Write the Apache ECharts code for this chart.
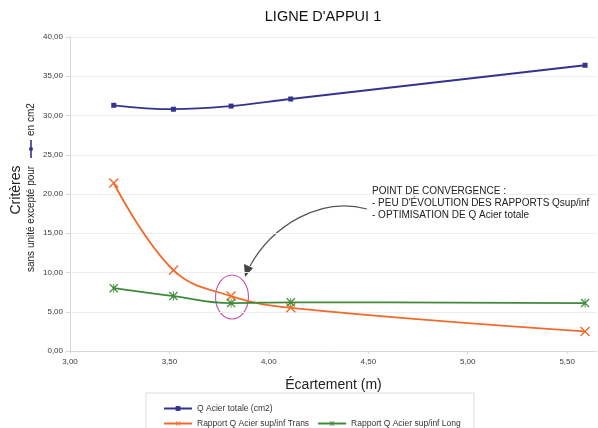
<!DOCTYPE html>
<html>
<head>
<meta charset="utf-8">
<script src="https://cdn.jsdelivr.net/npm/echarts@6/dist/echarts.min.js"></script>
<style>html,body{margin:0;padding:0;background:#fff;}#c{width:598px;height:428px;}</style>
</head>
<body>
<div id="c"></div>
<script>
const xValues = [3.22, 3.52, 3.81, 4.11, 5.59];
const qAcierTotale = [31.3, 30.8, 31.2, 32.1, 36.4];
const rapportTrans = [21.4, 10.3, 7.0, 5.5, 2.5];
const rapportLong = [8.0, 7.0, 6.1, 6.2, 6.1];
const seriesNames = ['Q Acier totale (cm2)', 'Rapport Q Acier sup/inf Trans', 'Rapport Q Acier sup/inf Long'];
const titleText = "LIGNE D'APPUI 1";
const xAxisName = 'Écartement (m)';
const yAxisName = 'Critères';
const noteLines = ['POINT DE CONVERGENCE :', "- PEU D'ÉVOLUTION DES RAPPORTS Qsup/inf", '- OPTIMISATION DE Q Acier totale'];

const FONT = 'Liberation Sans, Arial, sans-serif';
const BLUE = '#33338f', ORANGE = '#f26a2a', GREEN = '#3f8a3a';
const xSym = 'path://M0,1L1,0L5,4L9,0L10,1L6,5L10,9L9,10L5,6L1,10L0,9L4,5Z';
const starSym = 'path://M0,1L1,0L5,4L9,0L10,1L6,5L10,9L9,10L5,6L1,10L0,9L4,5Z M4.5,0L5.5,0L5.5,10L4.5,10Z';
const fmt = v => v.toFixed(2).replace('.', ',');
const pairs = arr => xValues.map((x, i) => [x, arr[i]]);

const chart = echarts.init(document.getElementById('c'), null, {renderer: 'canvas'});
chart.setOption({
  animation: false,
  textStyle: {fontFamily: FONT},
  grid: {left: 70, right: 1, top: 37, bottom: 77, containLabel: false},
  xAxis: {
    type: 'value', min: 3, max: 5.65, interval: 0.5,
    name: xAxisName, nameLocation: 'middle', nameGap: 27,
    nameTextStyle: {fontSize: 14, color: '#222', fontFamily: FONT},
    axisLine: {show: true, lineStyle: {color: '#d9d9d9'}},
    axisTick: {show: true, length: 3, lineStyle: {color: '#d9d9d9'}},
    axisLabel: {fontSize: 8, color: '#3a3a3a', margin: 7, formatter: fmt, showMaxLabel: false},
    splitLine: {show: false}
  },
  yAxis: {
    type: 'value', min: 0, max: 40, interval: 5,
    axisLine: {show: true, lineStyle: {color: '#d9d9d9'}},
    axisTick: {show: true, length: 4, lineStyle: {color: '#d9d9d9'}},
    axisLabel: {fontSize: 8, color: '#3a3a3a', margin: 7, formatter: fmt},
    splitLine: {show: true, lineStyle: {color: '#ededed'}}
  },
  legend: [
    {data: [seriesNames[0]], left: 158, top: 399, itemWidth: 28, itemHeight: 6, itemGap: 8,
     textStyle: {fontSize: 8.5, color: '#333', fontFamily: FONT}},
    {data: [seriesNames[1], seriesNames[2]], left: 158, top: 414, itemWidth: 28, itemHeight: 6, itemGap: 8,
     textStyle: {fontSize: 8.5, color: '#333', fontFamily: FONT}}
  ],
  series: [
    {name: seriesNames[0], type: 'line', data: pairs(qAcierTotale), smooth: 0.4,
     symbol: 'rect', symbolSize: 5, lineStyle: {color: BLUE, width: 1.8}, itemStyle: {color: BLUE}},
    {name: seriesNames[1], type: 'line', data: pairs(rapportTrans), smooth: 0.4,
     symbol: xSym, symbolSize: 10, lineStyle: {color: ORANGE, width: 1.8}, itemStyle: {color: ORANGE}},
    {name: seriesNames[2], type: 'line', data: pairs(rapportLong), smooth: 0.4,
     symbol: starSym, symbolSize: 9, lineStyle: {color: GREEN, width: 1.8}, itemStyle: {color: GREEN}}
  ],
  graphic: [
    {type: 'text', x: 323, y: 17, style: {text: titleText, font: '14.5px ' + FONT, fill: '#111', align: 'center', verticalAlign: 'middle'}},
    {type: 'text', x: 16, y: 190, rotation: Math.PI / 2, style: {text: yAxisName, font: '14px ' + FONT, fill: '#222', align: 'center', verticalAlign: 'middle'}},
    {type: 'text', x: 31, y: 272, rotation: Math.PI / 2, style: {text: 'sans unité excepté pour', font: '10px ' + FONT, fill: '#222', align: 'left', verticalAlign: 'middle'}},
    {type: 'line', shape: {x1: 31, y1: 158, x2: 31, y2: 140}, style: {stroke: BLUE, lineWidth: 1.6}},
    {type: 'circle', shape: {cx: 31, cy: 149, r: 2}, style: {fill: BLUE}},
    {type: 'text', x: 31, y: 136, rotation: Math.PI / 2, style: {text: 'en cm2', font: '10px ' + FONT, fill: '#222', align: 'left', verticalAlign: 'middle'}},
    {type: 'text', x: 372, y: 191, style: {text: noteLines[0], font: '10px ' + FONT, fill: '#222', verticalAlign: 'middle'}},
    {type: 'text', x: 372, y: 203, style: {text: noteLines[1], font: '10px ' + FONT, fill: '#222', verticalAlign: 'middle'}},
    {type: 'text', x: 372, y: 215, style: {text: noteLines[2], font: '10px ' + FONT, fill: '#222', verticalAlign: 'middle'}},
    {type: 'bezierCurve', shape: {x1: 367, y1: 209, cpx1: 320, cpy1: 196, cpx2: 272, cpy2: 226, x2: 250, y2: 266}, style: {stroke: '#555', lineWidth: 1.2, fill: null}},
    {type: 'polygon', shape: {points: [[245, 277], [244, 264], [253, 268]]}, style: {fill: '#444'}},
    {type: 'ellipse', shape: {cx: 232, cy: 297, rx: 16.5, ry: 22}, style: {stroke: '#c45ab3', lineWidth: 1.2, fill: null}},
    {type: 'rect', shape: {x: 146, y: 393, width: 328, height: 40}, style: {stroke: '#dcdcdc', lineWidth: 1, fill: null}, z: -1}
  ]
});
</script>
</body>
</html>
